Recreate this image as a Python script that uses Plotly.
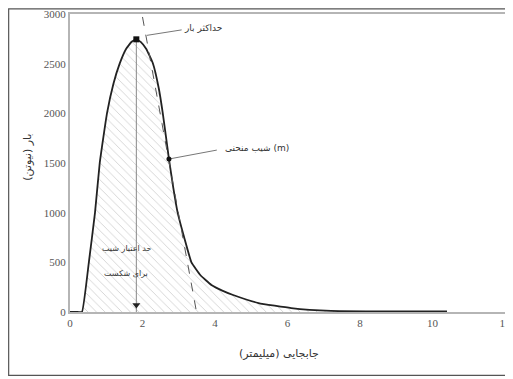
import plotly.graph_objects as go

# Load–displacement curve
disp = [0.0, 0.22, 0.33, 0.52, 0.69, 0.82, 1.02, 1.2, 1.37, 1.55, 1.7, 1.83, 1.95, 2.1,
        2.29, 2.45, 2.56, 2.73, 2.85, 2.97, 3.15, 3.35, 3.6, 3.9, 4.2, 4.5, 5.2, 6.1,
        7.2, 8.5, 9.5, 10.4]
load = [0, 0, 0, 500, 1000, 1500, 2000, 2300, 2500, 2650, 2720, 2745, 2720, 2650,
        2500, 2250, 2000, 1540, 1250, 1000, 750, 500, 370, 272, 215, 171, 90, 40,
        12, 7, 5, 5]

peak_x, peak_y = [1.83], [2745]
infl_x, infl_y = [2.73], [1540]
tangent_x = [2.0, 3.49]
tangent_y = [2970, 0]

x_ticks = [0, 2, 4, 6, 8, 10, 12]
y_ticks = [0, 500, 1000, 1500, 2000, 2500, 3000]

x_title = "جابجایی (میلیمتر)"
y_title = "بار (نیوتن)"
label_peak = "حداکثر بار"
label_slope = "شیب منحنی (m)"
label_limit = ["حد اعتبار شیب", "برای شکست"]

serif = "Liberation Serif"
fa = "DejaVu Sans"

fig = go.Figure()

fig.add_trace(go.Scatter(
    x=disp, y=load, mode="lines",
    line=dict(color="#222222", width=1.8, shape="spline", smoothing=0.35),
    fill="tozeroy", fillcolor="rgba(255,255,255,0)",
    fillpattern=dict(shape="\\", fgcolor="#a8a8a8", bgcolor="white", size=6, solidity=0.15),
    hoverinfo="skip", showlegend=False))

# tangent (dashed)
fig.add_trace(go.Scatter(x=tangent_x, y=tangent_y, mode="lines",
                         line=dict(color="#555555", width=1, dash="dash"),
                         showlegend=False, hoverinfo="skip"))

# vertical line from peak to axis with arrow head
fig.add_trace(go.Scatter(x=[peak_x[0], peak_x[0]], y=[peak_y[0], 0], mode="lines",
                         line=dict(color="#888888", width=1),
                         showlegend=False, hoverinfo="skip"))
fig.add_trace(go.Scatter(x=peak_x, y=[70], mode="markers",
                         marker=dict(symbol="triangle-down", size=7, color="#222222"),
                         showlegend=False, hoverinfo="skip"))

# leader lines
fig.add_trace(go.Scatter(x=[3.08, 2.12], y=[2840, 2785], mode="lines",
                         line=dict(color="#777777", width=1),
                         showlegend=False, hoverinfo="skip"))
fig.add_trace(go.Scatter(x=[4.05, infl_x[0]], y=[1630, infl_y[0]], mode="lines",
                         line=dict(color="#777777", width=1),
                         showlegend=False, hoverinfo="skip"))

# markers
fig.add_trace(go.Scatter(x=peak_x, y=peak_y, mode="markers",
                         marker=dict(symbol="square", size=6, color="#111111"),
                         showlegend=False, hoverinfo="skip"))
fig.add_trace(go.Scatter(x=infl_x, y=infl_y, mode="markers",
                         marker=dict(symbol="circle", size=5, color="#111111"),
                         showlegend=False, hoverinfo="skip"))

annotations = [
    dict(x=3.66, y=2860, text=label_peak, showarrow=False,
         font=dict(family=fa, size=9, color="#333333")),
    dict(x=5.15, y=1652, text=label_slope, showarrow=False,
         font=dict(family=fa, size=9, color="#333333")),
    dict(x=1.55, y=640, text=label_limit[0], showarrow=False,
         font=dict(family=fa, size=8, color="#333333")),
    dict(x=1.55, y=390, text=label_limit[1], showarrow=False,
         font=dict(family=fa, size=8, color="#333333")),
    dict(xref="paper", yref="paper", x=0.48, y=-0.168, text=x_title, showarrow=False,
         font=dict(family=fa, size=11, color="#333333")),
    dict(xref="paper", yref="paper", x=-0.119, y=0.52, text=y_title, showarrow=False,
         textangle=-90, font=dict(family=fa, size=11, color="#333333")),
]

shapes = [
    dict(type="rect", xref="paper", yref="paper", x0=-0.141, x1=1.0138, y0=-0.213, y1=1.017,
         line=dict(color="#555555", width=1.2), layer="above"),
]

fig.update_layout(
    width=505, height=371,
    margin=dict(l=62, r=8, t=6, b=67, autoexpand=False),
    paper_bgcolor="white", plot_bgcolor="white",
    annotations=annotations, shapes=shapes,
    xaxis=dict(range=[0, 12], tickvals=x_ticks, ticktext=[str(v) for v in x_ticks],
               showgrid=False, zeroline=False, showline=True, mirror=True,
               linecolor="#b5b5b5", linewidth=2, ticks="", automargin=False,
               ticklabeloverflow="allow",
               tickfont=dict(family=serif, size=11, color="#555555")),
    yaxis=dict(range=[0, 3000], tickvals=y_ticks, ticktext=[str(v) for v in y_ticks],
               showgrid=False, zeroline=False, showline=True, mirror=True,
               linecolor="#b5b5b5", linewidth=2, ticks="", automargin=False,
               ticklabeloverflow="allow",
               tickfont=dict(family=serif, size=11, color="#555555")),
)

fig.write_html("out.html")
